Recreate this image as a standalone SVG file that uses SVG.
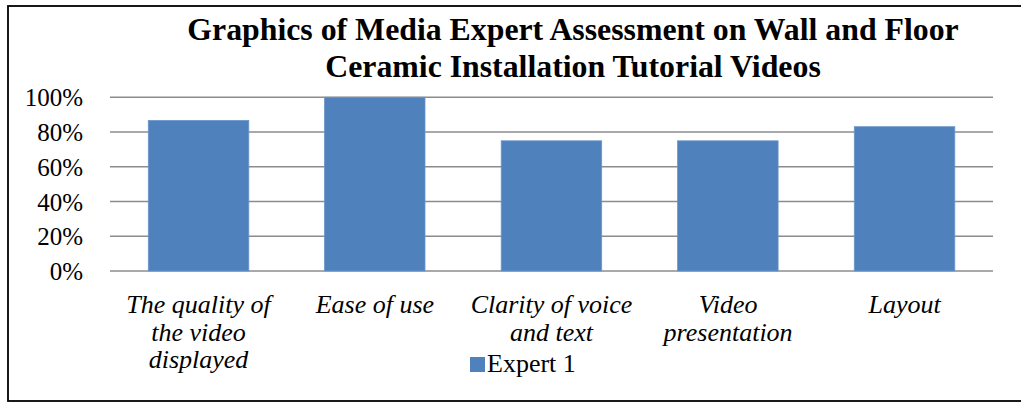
<svg xmlns="http://www.w3.org/2000/svg" width="1021" height="403" viewBox="0 0 1021 403">
<style>
.title{font-family:'Liberation Serif',serif;font-weight:bold;font-size:31.8px;fill:#000;text-anchor:middle}
.ytick{font-family:'Liberation Serif','DejaVu Serif',serif;font-weight:normal;font-style:normal;font-size:25px;fill:#000;text-anchor:end}
.cat{font-family:'Liberation Serif','DejaVu Serif',serif;font-weight:normal;font-style:italic;font-size:26px;fill:#000;text-anchor:middle}
.leg{font-family:'Liberation Serif','DejaVu Serif',serif;font-weight:normal;font-size:26px;fill:#000}
.grid{stroke:#8c8c8c;stroke-width:1.5}
.bar{fill:#4f81bd;stroke:#6b95c8;stroke-width:0.8}
</style>
<rect x="0" y="0" width="1021" height="403" fill="#fff"/>
<rect x="8" y="6" width="1030" height="395" fill="none" stroke="#000" stroke-width="1.8"/>
<g id="title">
<text class="title" x="573" y="40">Graphics of Media Expert Assessment on Wall and Floor</text>
<text class="title" x="573" y="77">Ceramic Installation Tutorial Videos</text>
</g>
<g id="gridlines">
<line class="grid" x1="110" y1="97.3" x2="993" y2="97.3"/>
<line class="grid" x1="110" y1="132.1" x2="993" y2="132.1"/>
<line class="grid" x1="110" y1="166.8" x2="993" y2="166.8"/>
<line class="grid" x1="110" y1="201.6" x2="993" y2="201.6"/>
<line class="grid" x1="110" y1="236.3" x2="993" y2="236.3"/>
<line class="grid" x1="110" y1="271" x2="993" y2="271" stroke="#808080"/>
</g>
<g id="y-axis">
<text class="ytick" x="83" y="106">100%</text>
<text class="ytick" x="83" y="141">80%</text>
<text class="ytick" x="83" y="176">60%</text>
<text class="ytick" x="83" y="211">40%</text>
<text class="ytick" x="83" y="245">20%</text>
<text class="ytick" x="83" y="280">0%</text>
</g>
<g id="bar-quality">
<rect class="bar" x="148.3" y="120.4" width="100.5" height="150.6"/>
<text class="cat" x="198.5" y="313">The quality of</text>
<text class="cat" x="198.5" y="341">the video</text>
<text class="cat" x="198.5" y="368">displayed</text>
</g>
<g id="bar-ease">
<rect class="bar" x="324.5" y="97.3" width="100.5" height="173.7"/>
<text class="cat" x="374.9" y="313">Ease of use</text>
</g>
<g id="bar-clarity">
<rect class="bar" x="501.2" y="140.8" width="100.5" height="130.2"/>
<text class="cat" x="551.5" y="313">Clarity of voice</text>
<text class="cat" x="551.5" y="341">and text</text>
</g>
<g id="bar-presentation">
<rect class="bar" x="677.6" y="140.8" width="100.5" height="130.2"/>
<text class="cat" x="728.1" y="313">Video</text>
<text class="cat" x="728.1" y="341">presentation</text>
</g>
<g id="bar-layout">
<rect class="bar" x="854.3" y="126.7" width="100.5" height="144.3"/>
<text class="cat" x="904.7" y="313">Layout</text>
</g>
<g id="legend">
<rect x="470" y="357" width="15" height="15" fill="#4f81bd"/>
<text class="leg" x="487" y="372">Expert 1</text>
</g>
</svg>
